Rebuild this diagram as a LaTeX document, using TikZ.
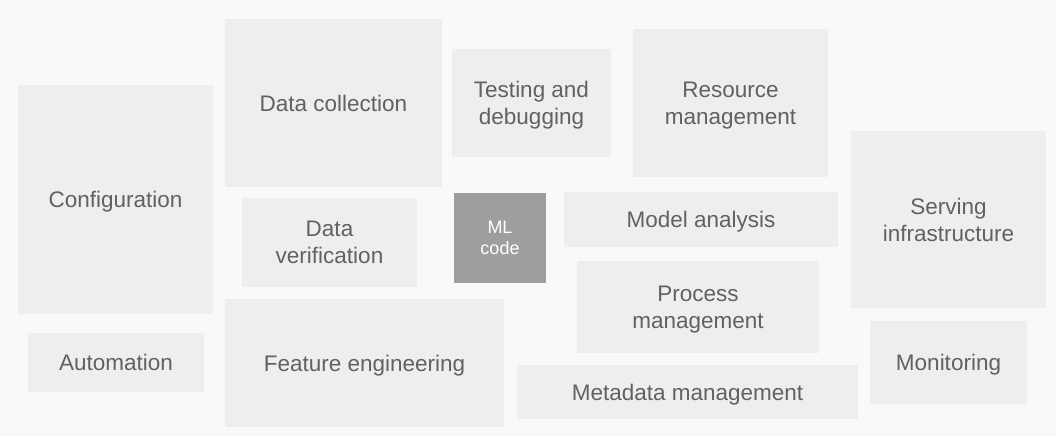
\documentclass[tikz,border=0pt]{standalone}
\usepackage{fontspec}
\setmainfont{Liberation Sans}
\definecolor{bggray}{HTML}{F8F9FA}
\definecolor{boxgray}{HTML}{EEEEEE}
\definecolor{mlgray}{HTML}{9E9E9E}
\definecolor{txtgray}{HTML}{616161}
\tikzset{
  blk/.style={fill=boxgray, text=txtgray, align=center, inner sep=0pt, text depth=0pt,
    font=\fontsize{22.5}{27}\selectfont},
  mlblk/.style={blk, fill=mlgray, text=white, font=\fontsize{18}{21}\selectfont}
}
\begin{document}
\begin{tikzpicture}[x=1pt, y=-1pt]
    % Фон
    \fill[bggray] (0,0) rectangle (1056,436);
    % Левая колонка
    \node[blk, minimum width=195, minimum height=229] (conf) at (115.5,199.5) {Configuration};
    \node[blk, minimum width=176, minimum height=59] (auto) at (116,362.5) {Automation};
    % Данные
    \node[blk, minimum width=217, minimum height=168] (datacol) at (333.5,103) {Data collection};
    \node[blk, minimum width=175, minimum height=89] (dataver) at (329.5,242.5) {Data\\verification};
    \node[blk, minimum width=279, minimum height=128] (feat) at (364.5,363) {Feature engineering};
    % Центр
    \node[blk, minimum width=159, minimum height=108] (test) at (531.5,103) {Testing and\\debugging};
    \node[mlblk, minimum width=92, minimum height=90] (mlcode) at (500,238) {ML\\code};
    % Управление
    \node[blk, minimum width=195, minimum height=148] (res) at (730.5,103) {Resource\\management};
    \node[blk, minimum width=274, minimum height=55] (model) at (701,219.5) {Model analysis};
    \node[blk, minimum width=242, minimum height=92] (proc) at (698,307) {Process\\management};
    \node[blk, minimum width=341, minimum height=54] (meta) at (687.5,392) {Metadata management};
    % Правая колонка
    \node[blk, minimum width=195, minimum height=177] (serv) at (948.5,219.5) {Serving\\infrastructure};
    \node[blk, minimum width=157, minimum height=83] (mon) at (948.5,362.5) {Monitoring};
\end{tikzpicture}
\end{document}
